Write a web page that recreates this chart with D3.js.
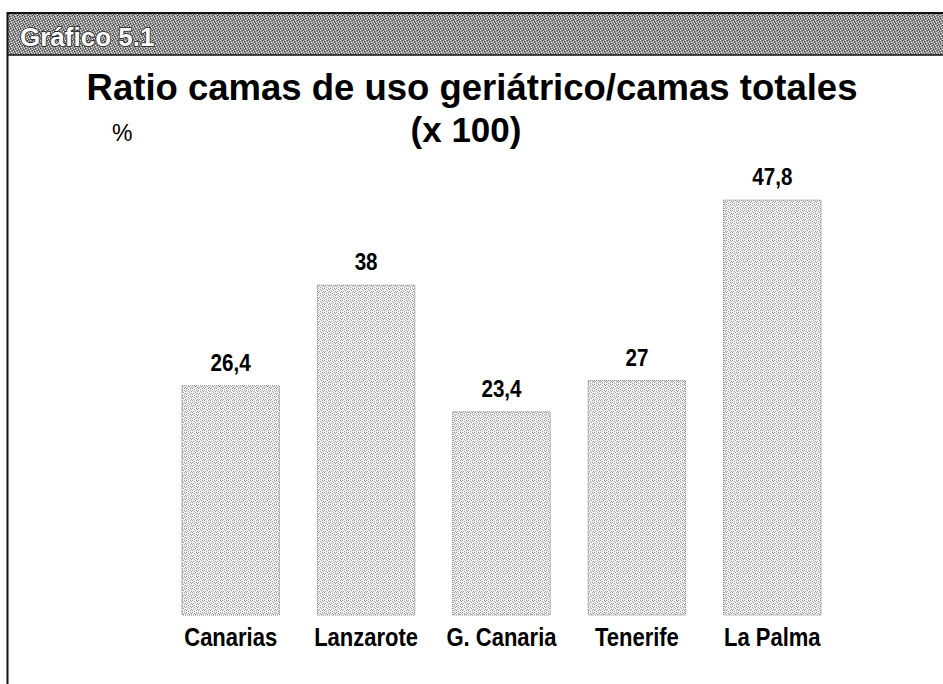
<!DOCTYPE html>
<html>
<head>
<meta charset="utf-8">
<script src="https://cdn.jsdelivr.net/npm/d3@7"></script>
<style>
  body { margin: 0; background: #fff; }
  svg { display: block; }
</style>
</head>
<body>
<svg id="chart"></svg>
<script>
// chart data
var categories = ["Canarias", "Lanzarote", "G. Canaria", "Tenerife", "La Palma"];
var values = [26.4, 38, 23.4, 27, 47.8];
var valueLabels = ["26,4", "38", "23,4", "27", "47,8"];

var width = 943,
    height = 684;

var svg = d3.select("#chart")
  .attr("width", width)
  .attr("height", height);

var defs = svg.append("defs");

// stipple texture for the bars (scanned-print look)
var barPat = defs.append("pattern")
  .attr("id", "barTex")
  .attr("width", 6).attr("height", 6)
  .attr("patternUnits", "userSpaceOnUse");
barPat.append("rect").attr("width", 6).attr("height", 6).attr("fill", "#f0f0f0");
[[0,0],[2,1],[4,0],[1,3],[3,2],[5,3],[0,4],[2,5],[4,4],[5,1]].forEach(function(p) {
  barPat.append("rect").attr("x", p[0]).attr("y", p[1])
    .attr("width", 1).attr("height", 1).attr("fill", "#a0a0a0");
});

// darker texture for the header band
var headPat = defs.append("pattern")
  .attr("id", "headTex")
  .attr("width", 5).attr("height", 5)
  .attr("patternUnits", "userSpaceOnUse");
headPat.append("rect").attr("width", 5).attr("height", 5).attr("fill", "#8e8e8e");
[[0,0],[3,1],[1,2],[4,3],[2,4]].forEach(function(p) {
  headPat.append("rect").attr("x", p[0]).attr("y", p[1])
    .attr("width", 1).attr("height", 1).attr("fill", "#e6e6e6");
});
[[2,0],[0,3],[4,1],[3,4]].forEach(function(p) {
  headPat.append("rect").attr("x", p[0]).attr("y", p[1])
    .attr("width", 1).attr("height", 1).attr("fill", "#444");
});

// header band + frame
svg.append("rect")
  .attr("x", 7).attr("y", 13)
  .attr("width", width - 7).attr("height", 42)
  .attr("fill", "url(#headTex)");
svg.append("line")
  .attr("x1", 7).attr("x2", width).attr("y1", 13).attr("y2", 13)
  .attr("stroke", "#111").attr("stroke-width", 2);
svg.append("line")
  .attr("x1", 7).attr("x2", width).attr("y1", 55).attr("y2", 55)
  .attr("stroke", "#111").attr("stroke-width", 1.5);
svg.append("line")
  .attr("x1", 7.5).attr("x2", 7.5).attr("y1", 12).attr("y2", height)
  .attr("stroke", "#111").attr("stroke-width", 2);

svg.append("text")
  .attr("x", 20).attr("y", 46)
  .style("font-family", "'Liberation Sans', Arial, sans-serif")
  .style("font-weight", "bold")
  .style("font-size", "26px")
  .attr("fill", "#fff")
  .attr("stroke", "#222").attr("stroke-width", 1.6)
  .attr("paint-order", "stroke")
  .text("Gráfico 5.1");

// titles
svg.append("text")
  .attr("x", 472).attr("y", 100)
  .attr("text-anchor", "middle")
  .style("font-family", "'Liberation Sans', Arial, sans-serif")
  .style("font-weight", "bold")
  .style("font-size", "36.5px")
  .text("Ratio camas de uso geriátrico/camas totales");
svg.append("text")
  .attr("x", 466).attr("y", 142)
  .attr("text-anchor", "middle")
  .style("font-family", "'Liberation Sans', Arial, sans-serif")
  .style("font-weight", "bold")
  .style("font-size", "35px")
  .text("(x 100)");
svg.append("text")
  .attr("x", 112).attr("y", 141)
  .style("font-family", "'Liberation Sans', Arial, sans-serif")
  .style("font-size", "23px")
  .text("%");

// scales
var x = d3.scaleBand()
  .domain(categories)
  .range([163, 840])
  .paddingInner(0.28)
  .paddingOuter(0.14);

var y = d3.scaleLinear()
  .domain([0, 50])
  .range([615, 181]);

var font = "'Liberation Sans', Arial, sans-serif";

// bars
svg.selectAll("rect.bar")
  .data(values)
  .enter()
  .append("rect")
  .attr("class", "bar")
  .attr("x", function(d, i) { return x(categories[i]); })
  .attr("width", x.bandwidth())
  .attr("y", function(d) { return y(d); })
  .attr("height", function(d) { return y(0) - y(d); })
  .attr("fill", "url(#barTex)")
  .attr("stroke", "#777")
  .attr("stroke-width", 1)
  .attr("stroke-dasharray", "1,1");

// value labels (condensed bold)
svg.selectAll("text.val")
  .data(values)
  .enter()
  .append("text")
  .attr("class", "val")
  .attr("transform", function(d, i) {
    return "translate(" + (x(categories[i]) + x.bandwidth() / 2) + "," + (y(d) - 15) + ") scale(0.86,1)";
  })
  .attr("text-anchor", "middle")
  .style("font-family", font)
  .style("font-weight", "bold")
  .style("font-size", "24px")
  .text(function(d, i) { return valueLabels[i]; });

// category axis labels (condensed bold)
svg.selectAll("text.cat")
  .data(categories)
  .enter()
  .append("text")
  .attr("class", "cat")
  .attr("transform", function(d) {
    return "translate(" + (x(d) + x.bandwidth() / 2) + ",646) scale(0.88,1)";
  })
  .attr("text-anchor", "middle")
  .style("font-family", font)
  .style("font-weight", "bold")
  .style("font-size", "25px")
  .text(function(d) { return d; });
</script>
</body>
</html>
